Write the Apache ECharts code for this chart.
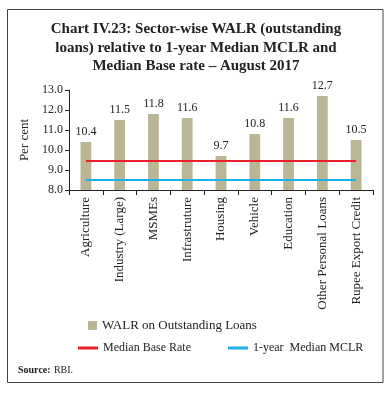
<!DOCTYPE html>
<html><head><meta charset="utf-8">
<script src="https://cdn.jsdelivr.net/npm/echarts@6/dist/echarts.min.js"></script>
<style>html,body{margin:0;padding:0;background:#fff}#c{width:392px;height:394px}</style>
</head><body><div id="c"></div>
<script>
var categories = ['Agriculture','Industry (Large)','MSMEs','Infrastruture','Housing','Vehicle','Education','Other Personal Loans','Rupee Export Credit'];
var walr = [10.4, 11.5, 11.8, 11.6, 9.7, 10.8, 11.6, 12.7, 10.5];
var baseRate = [9.45, 9.45, 9.45, 9.45, 9.45, 9.45, 9.45, 9.45, 9.45];
var mclr = [8.5, 8.5, 8.5, 8.5, 8.5, 8.5, 8.5, 8.5, 8.5];
var FONT = '"Liberation Serif", "DejaVu Serif", serif';
var chart = echarts.init(document.getElementById('c'));
chart.setOption({
  animation: false,
  backgroundColor: '#fff',
  textStyle: {fontFamily: FONT},
  graphic: [
    {type: 'rect', shape: {x: 7.5, y: 9.5, width: 375.5, height: 373}, style: {fill: 'none', stroke: '#444', lineWidth: 1}, z: -1},
    {type: 'text', x: 196, y: 20, style: {text: 'Chart IV.23: Sector-wise WALR (outstanding\nloans) relative to 1-year Median MCLR and\nMedian Base rate \u2013 August 2017',
      textAlign: 'center', fontFamily: FONT, fontWeight: 'bold', fontSize: 15, lineHeight: 18.5, fill: '#222'}},
    {type: 'text', left: 18, top: 364, style: {rich: {b: {fontWeight: 'bold', fontSize: 10, fontFamily: FONT, fill: '#222'}, n: {fontSize: 10, fontFamily: FONT, fill: '#222'}}, text: '{b|Source:} {n|RBI.}'}}
  ],
  legend: [
    {data: [{name: 'WALR on Outstanding Loans', icon: 'rect'}], left: 88, top: 319, padding: 0, itemWidth: 9, itemHeight: 9,
      textStyle: {fontFamily: FONT, fontSize: 13, color: '#222'}},
    {data: [{name: 'Median Base Rate', icon: 'rect'}, {name: '1-year  Median MCLR', icon: 'rect'}], left: 78, top: 342, padding: 0, itemWidth: 20, itemHeight: 3, itemGap: 37,
      textStyle: {fontFamily: FONT, fontSize: 12, color: '#222'}}
  ],
  grid: {left: 69, right: 19, top: 90, bottom: 204},
  xAxis: {
    type: 'category', data: categories,
    axisLine: {lineStyle: {color: '#222', width: 1}},
    axisTick: {show: true, alignWithLabel: false, length: 5, lineStyle: {color: '#222'}},
    axisLabel: {rotate: 90, interval: 0, margin: 7, fontFamily: FONT, fontSize: 13, color: '#222'}
  },
  yAxis: {
    type: 'value', min: 8, max: 13, interval: 1,
    name: 'Per cent', nameLocation: 'middle', nameGap: 38, nameRotate: 90,
    nameTextStyle: {fontFamily: FONT, fontSize: 13, color: '#222'},
    axisLine: {show: true, lineStyle: {color: '#222', width: 1}},
    axisTick: {show: true, length: 4, lineStyle: {color: '#222'}},
    splitLine: {show: false},
    axisLabel: {formatter: function(v){return v.toFixed(1);}, margin: 6, fontFamily: FONT, fontSize: 12, color: '#222'}
  },
  series: [
    {name: 'WALR on Outstanding Loans', type: 'bar', data: walr, barWidth: '32%',
      itemStyle: {color: '#bab695'},
      label: {show: true, position: 'top', distance: 4, formatter: function(p){return p.value.toFixed(1);}, fontFamily: FONT, fontSize: 12, color: '#222'}},
    {name: 'Median Base Rate', type: 'line', data: baseRate, symbol: 'none', lineStyle: {color: '#e8202a', width: 2}, itemStyle: {color: '#e8202a'}},
    {name: '1-year  Median MCLR', type: 'line', data: mclr, symbol: 'none', lineStyle: {color: '#1eb1e8', width: 2}, itemStyle: {color: '#1eb1e8'}}
  ]
});
</script></body></html>
